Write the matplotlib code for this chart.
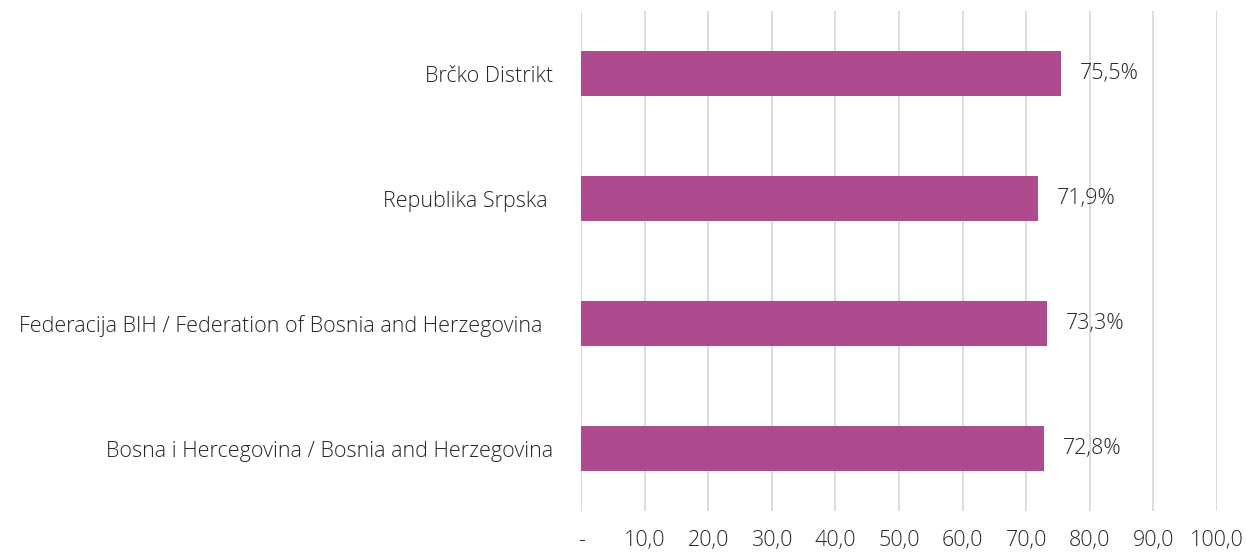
import matplotlib.pyplot as plt
from matplotlib.ticker import FixedLocator, FuncFormatter

# data (bottom to top as drawn)
regions = [
    "Bosna i Hercegovina / Bosnia and Herzegovina",
    "Federacija BIH / Federation of Bosnia and Herzegovina  ",
    "Republika Srpska ",
    "Brčko Distrikt",
]
shares = [72.8, 73.3, 71.9, 75.5]
value_labels = ["72,8%", "73,3%", "71,9%", "75,5%"]
x_ticks = [0, 10, 20, 30, 40, 50, 60, 70, 80, 90, 100]

bar_color = "#AE4B8F"
text_color = "#262626"
plt.rcParams["font.family"] = ["Open Sans", "DejaVu Sans"]
plt.rcParams["font.weight"] = "light"

fig = plt.figure(figsize=(12.47, 5.54), dpi=100)
ax = fig.add_axes([581 / 1247, 43 / 554, 636 / 1247, 500 / 554])

ax.barh(range(len(regions)), shares, height=0.36, color=bar_color, zorder=3)
for i, (v, lab) in enumerate(zip(shares, value_labels)):
    ax.annotate(lab, (v, i), xytext=(19, 0), textcoords="offset pixels",
                va="center", ha="left", fontsize=15.5, color=text_color)

ax.set_xlim(0, 100)
ax.set_ylim(-0.5, 3.5)
ax.xaxis.set_major_locator(FixedLocator(x_ticks))
ax.xaxis.set_major_formatter(FuncFormatter(
    lambda x, p: "-" if x == 0 else f"{x:.1f}".replace(".", ",")))
ax.set_yticks(range(len(regions)))
ax.set_yticklabels(regions)

ax.grid(axis="x", color="#D9D9D9", linewidth=1.3, zorder=0)
for s in ax.spines.values():
    s.set_visible(False)
ax.tick_params(axis="x", length=0, pad=14, labelsize=15.5, labelcolor=text_color)
ax.tick_params(axis="y", length=0, pad=20, labelsize=15.5, labelcolor=text_color)

fig.savefig("out.png", dpi=100)
